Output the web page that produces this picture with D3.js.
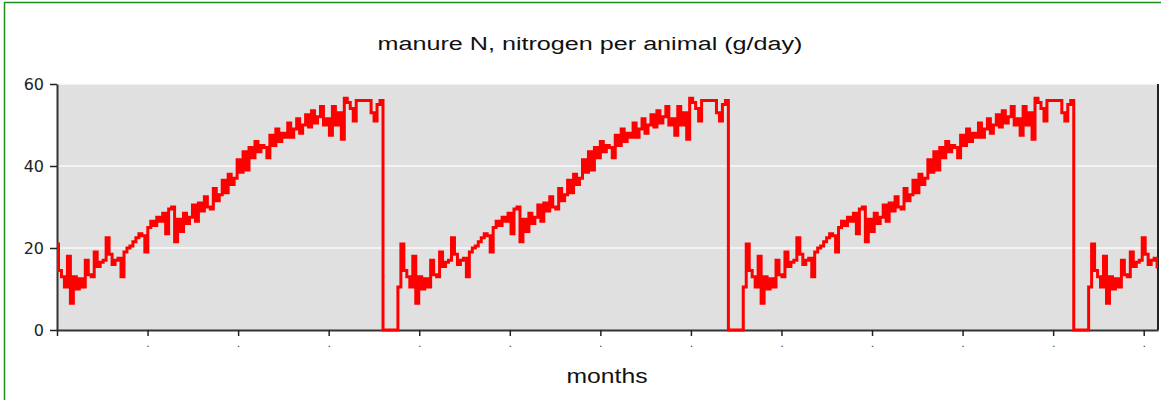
<!DOCTYPE html>
<html>
<head>
<meta charset="utf-8">
<script src="https://cdn.jsdelivr.net/npm/d3@7"></script>
<style>
body { margin: 0; background: #fff; }
svg { display: block; }
</style>
</head>
<body>
<div id="container"></div>
<script>
// daily values, one array per lactation cycle (116 days each, last one cut off)
var cycle1 = [21,14.5,13,10.5,18,6.5,13,10,12.5,10.5, 17,13.5,13,19,15.5,16.5,17,22.5,18.5,16,
              17,17.5,13,19,20,20.5,21.5,22.5,23.5,23, 19,25,26.5,25.5,27.5,26.5,28.5,23.5,29.5,30,
              21.5,27,24,28.5,26,27.5,30.5,26.5,31,29, 32.5,30,29.5,34.5,31.5,33,36.5,33.5,38,35.5,
              37,41.5,38.5,43.5,39,44.5,42,46,43.5,45, 44.5,42,47.5,45,49,46,48,47,50.5,47,
              49,51.5,48,50,52.5,49.5,53.5,50.5,52,54.5, 50,51.5,47.5,54.5,50,53,46.5,56.5,55.5,54,
              51,56,56,56,56,56,53,51,55,56, 0,0,0,0,0,10.5];
var cycle2 = [21,14.5,13,10.5,18,6.5,13,10,12.5,10.5, 17,13.5,13,19,15.5,16.5,17,22.5,18.5,16,
              17,17.5,13,19,20,20.5,21.5,22.5,23.5,23, 19,25,26.5,25.5,27.5,26.5,28.5,23.5,29.5,30,
              21.5,27,24,28.5,26,27.5,30.5,26.5,31,29, 32.5,30,29.5,34.5,31.5,33,36.5,33.5,38,35.5,
              37,41.5,38.5,43.5,39,44.5,42,46,43.5,45, 44.5,42,47.5,45,49,46,48,47,50.5,47,
              49,51.5,48,50,52.5,49.5,53.5,50.5,52,54.5, 50,51.5,47.5,54.5,50,53,46.5,56.5,55.5,54,
              51,56,56,56,56,56,53,51,55,56, 0,0,0,0,0,10.5];
var cycle3 = [21,14.5,13,10.5,18,6.5,13,10,12.5,10.5, 17,13.5,13,19,15.5,16.5,17,22.5,18.5,16,
              17,17.5,13,19,20,20.5,21.5,22.5,23.5,23, 19,25,26.5,25.5,27.5,26.5,28.5,23.5,29.5,30,
              21.5,27,24,28.5,26,27.5,30.5,26.5,31,29, 32.5,30,29.5,34.5,31.5,33,36.5,33.5,38,35.5,
              37,41.5,38.5,43.5,39,44.5,42,46,43.5,45, 44.5,42,47.5,45,49,46,48,47,50.5,47,
              49,51.5,48,50,52.5,49.5,53.5,50.5,52,54.5, 50,51.5,47.5,54.5,50,53,46.5,56.5,55.5,54,
              51,56,56,56,56,56,53,51,55,56, 0,0,0,0,0,10.5];
var cycle4 = [21,14.5,13,10.5,18,6.5,13,10,12.5,10.5, 17,13.5,13,19,15.5,16.5,17,22.5,18.5,16,
              17,17.5,15];

var yTicks = [0, 20, 40, 60];
var monthTicks = [0,1,2,3,4,5,6,7,8,9,10,11,12];
var monthLabels = ["",".",".",".",".",".",".",".",".",".",".",".","."];

var width = 1161,
    height = 400,
    margin = { left: 57, top: 84, right: 3, bottom: 70 },
    g_width = width - margin.left - margin.right,
    g_height = height - margin.top - margin.bottom;

var svg = d3.select("#container")
            .append("svg")
            .attr("width", width)
            .attr("height", height);

// green frame round the whole chart
svg.append("rect")
   .attr("x", 4.5).attr("y", 2.5)
   .attr("width", 1200).attr("height", 500)
   .attr("fill", "none")
   .attr("stroke", "#1f8f1f")
   .attr("stroke-width", 1.5);

var g = svg.append("g")
           .attr("transform", "translate(" + margin.left + "," + margin.top + ")");

var data = cycle1.concat(cycle2, cycle3, cycle4)
                 .map(function(v, i) { return { day: i, n: v }; });

var scale_x = d3.scaleLinear()
                .domain([0.5, 370.3])
                .range([0, g_width]);

var scale_y = d3.scaleLinear()
                .domain([0, 60])
                .range([g_height, 0]);

g.append("rect")
 .attr("width", g_width)
 .attr("height", g_height)
 .attr("fill", "#e0e0e0");

// white grid
g.selectAll(".grid")
 .data(yTicks.filter(function(d) { return d > 0; }))
 .enter().append("line")
 .attr("x1", 0).attr("x2", g_width)
 .attr("y1", function(d) { return scale_y(d); })
 .attr("y2", function(d) { return scale_y(d); })
 .attr("stroke", "#fafafa")
 .attr("stroke-width", 1.5);

var x_axis = d3.axisBottom(scale_x)
               .tickValues(monthTicks.map(function(m) { return 0.5 + m * 365 / 12; }))
               .tickFormat(function(d, i) { return monthLabels[i]; })
               .tickSize(6)
               .tickSizeOuter(0)
               .tickPadding(3);

var y_axis = d3.axisLeft(scale_y)
               .tickValues(yTicks)
               .tickSize(7)
               .tickSizeOuter(0)
               .tickPadding(6);

var xg = g.append("g")
          .attr("transform", "translate(0," + g_height + ")")
          .call(x_axis);
xg.select(".domain").attr("stroke", "#333").attr("stroke-width", 2);
xg.selectAll(".tick line").attr("stroke", "#222").attr("stroke-width", 1.5);
xg.selectAll(".tick text").attr("font-size", 11).attr("fill", "#444")
  .attr("font-family", "DejaVu Sans, sans-serif");

var yg = g.append("g").call(y_axis);
yg.select(".domain").attr("stroke", "#333").attr("stroke-width", 2);
yg.selectAll(".tick line").attr("stroke", "#222").attr("stroke-width", 1.5);
yg.selectAll(".tick text").attr("font-size", 16).attr("fill", "#222")
  .attr("font-family", "DejaVu Sans, sans-serif");

// right edge of plot
g.append("line")
 .attr("x1", g_width).attr("x2", g_width)
 .attr("y1", 0).attr("y2", g_height)
 .attr("stroke", "#222").attr("stroke-width", 2);

g.append("clipPath").attr("id", "plotclip")
 .append("rect").attr("x", 0).attr("y", -4)
 .attr("width", g_width).attr("height", g_height + 6);

var line_generator = d3.line()
                       .x(function(d) { return scale_x(d.day); })
                       .y(function(d) { return scale_y(d.n); })
                       .curve(d3.curveStepAfter);

g.append("path")
 .attr("clip-path", "url(#plotclip)")
 .attr("d", line_generator(data))
 .attr("fill", "none")
 .attr("stroke", "#ff0000")
 .attr("stroke-width", 3)
 .attr("stroke-linejoin", "miter");

svg.append("text")
   .attr("x", 590).attr("y", 50)
   .attr("text-anchor", "middle")
   .attr("font-family", "Liberation Sans, Arial, sans-serif")
   .attr("font-size", 18)
   .attr("fill", "#111")
   .attr("textLength", 425)
   .attr("lengthAdjust", "spacingAndGlyphs")
   .text("manure N, nitrogen per animal (g/day)");

svg.append("text")
   .attr("x", 607).attr("y", 383)
   .attr("text-anchor", "middle")
   .attr("font-family", "Liberation Sans, Arial, sans-serif")
   .attr("font-size", 20)
   .attr("fill", "#111")
   .attr("textLength", 81)
   .attr("lengthAdjust", "spacingAndGlyphs")
   .text("months");
</script>
</body>
</html>
